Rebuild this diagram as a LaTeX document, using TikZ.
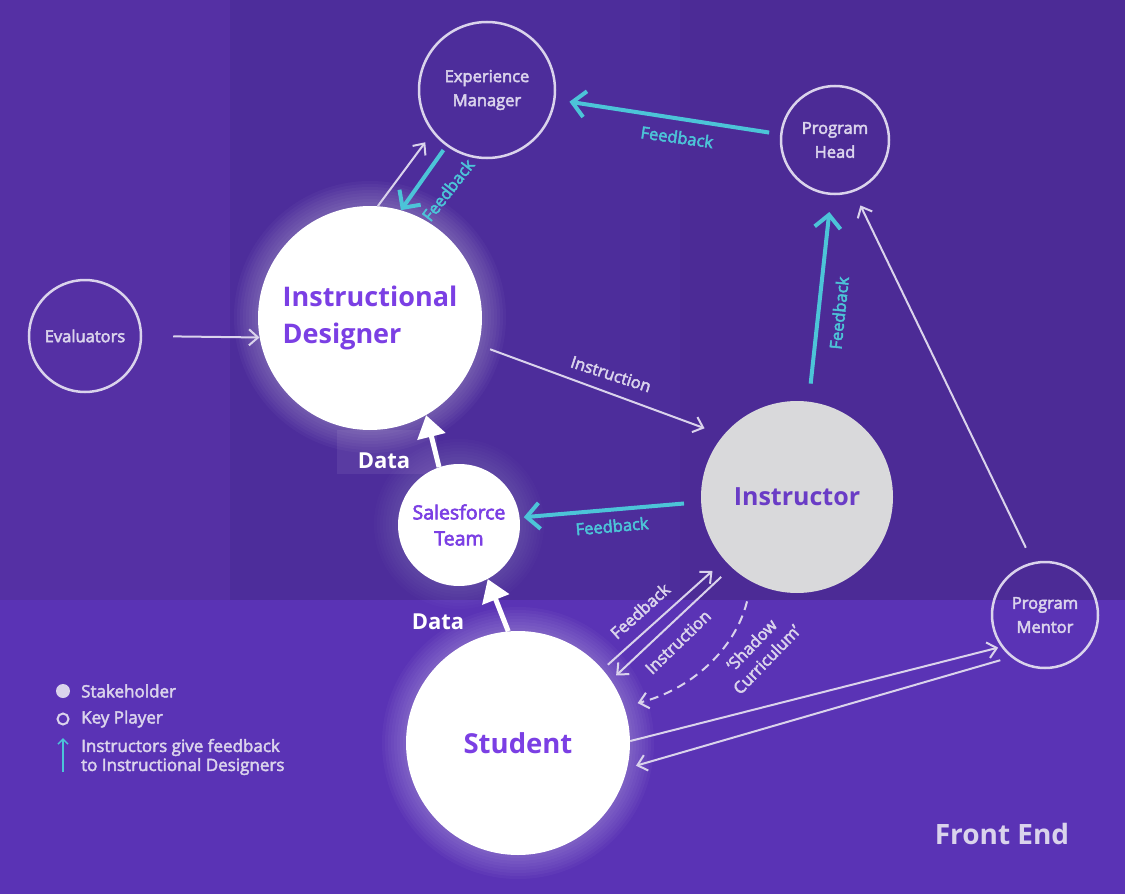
\documentclass[tikz,border=0pt]{standalone}
\usepackage{fontspec}
\setmainfont{Open Sans}
\usetikzlibrary{arrows.meta}
\definecolor{bgL}{HTML}{5530A4}
\definecolor{bgC}{HTML}{4D2D9B}
\definecolor{bgR}{HTML}{4C2B96}
\definecolor{bgB}{HTML}{5A33B5}
\definecolor{lgray}{HTML}{DAD3EC}
\definecolor{cyanA}{HTML}{4CC4D8}
\definecolor{purpT}{HTML}{7B3FE4}
\definecolor{purpI}{HTML}{6A3CC6}
\definecolor{instF}{HTML}{D9D9DB}
\begin{document}
\begin{tikzpicture}[x=1pt,y=-1pt,
  emb/.style={execute at begin node={\special{pdf:literal direct 2 Tr #1 w}},
              execute at end node={\special{pdf:literal direct 0 Tr 0.4 w}}},
  kp/.style={circle, draw=lgray, line width=2.5pt, inner sep=0pt, text=lgray,
    font=\fontsize{16.5}{24}\selectfont, align=center, emb=0.5},
  sh/.style={circle, fill=white, inner sep=0pt, text=purpT, align=center},
  thinarr/.style={draw=lgray, line width=2pt, -{Straight Barb[length=9pt,width=16pt]}},
  cyanarr/.style={draw=cyanA, line width=4pt, -{Straight Barb[length=13pt,width=26pt]}},
  dataarr/.style={draw=white, line width=5pt, -{Triangle[length=22pt,width=28pt]}},
  glbl/.style={text=lgray, font=\fontsize{16.5}{20}\selectfont, inner sep=1pt, emb=0.5},
  clbl/.style={text=cyanA, font=\fontsize{16.5}{20}\selectfont, inner sep=1pt, emb=0.5},
  dlbl/.style={text=white, font=\fontsize{22}{24}\selectfont\bfseries, inner sep=1pt},
  leg/.style={text=lgray, font=\fontsize{17}{19}\selectfont, anchor=west, align=left, inner sep=0pt, emb=0.45}
]
\useasboundingbox (0,0) rectangle (1125,894);
% backgrounds
\fill[bgL] (0,0) rectangle (230,600);
\fill[bgC] (230,0) rectangle (680,600);
\fill[bgR] (680,0) rectangle (1125,600);
\fill[bgB] (0,600) rectangle (1125,894);
\fill[white, opacity=0.07] (337,430) rectangle (437,474);
% glows
\foreach \k in {1,...,8} {
  \fill[white, opacity=0.03] (370,317) circle[radius=112+3*\k];
  \fill[white, opacity=0.03] (518,743) circle[radius=112+3*\k];
  \fill[white, opacity=0.015] (459,524) circle[radius=61+3*\k];
}
% nodes
\node[kp, minimum size=136pt] (em) at (487,90) {Experience\\Manager};
\node[kp, minimum size=108pt] (ph) at (835,140) {Program\\Head};
\node[kp, minimum size=112pt] (ev) at (85,336) {Evaluators};
\node[kp, minimum size=106pt] (pm) at (1045,615) {Program\\Mentor};
\node[sh, minimum size=224pt, align=left, font=\fontsize{27}{37}\selectfont\bfseries] (id) at (370,318) {Instructional\\Designer};
\node[sh, minimum size=122pt, font=\fontsize{19.5}{26}\selectfont, emb=0.6] (sf) at (459,525) {Salesforce\\Team};
\node[circle, fill=instF, inner sep=0pt, minimum size=192pt, text=purpI, font=\fontsize{25}{30}\selectfont\bfseries] (in) at (797,497) {Instructor};
\node[sh, minimum size=224pt, font=\fontsize{27.5}{30}\selectfont\bfseries] (st) at (518,743) {Student};
% connectors
\draw[thinarr, shorten >=12pt] (id.86) -- (em.218);
\draw[cyanarr, shorten <=5pt] (em.234) -- (id.74);
\draw[cyanarr, shorten <=11pt, shorten >=14pt] (ph.174) -- (em.-8);
\draw[thinarr, shorten <=31pt] (ev.east) -- (id.190);
\draw[thinarr, shorten <=12pt, shorten >=20pt] (id.-14) -- (in.140);
\draw[cyanarr, shorten <=18pt, shorten >=17pt] (in.83) -- (ph.266);
\draw[thinarr, shorten <=16pt, shorten >=15pt] (pm.103) -- (ph.-70);
\draw[cyanarr, shorten <=17pt, shorten >=4pt] (in.183) -- (sf.7);
\draw[dataarr] (sf.109) -- (id.-60);
\draw[dataarr] (st.95) -- (sf.-62);
\draw[thinarr, shorten <=7pt, shorten >=16pt] (st.41) -- (in.221);
\draw[thinarr, shorten <=14pt, shorten >=7pt] (in.227) -- (st.34);
\draw[draw=lgray, line width=2pt, dash pattern=on 9pt off 6pt, -{Straight Barb[length=9pt,width=16pt]}, shorten <=20pt, shorten >=14pt]
  (in.242) .. controls (735,650) and (690,690) .. (st.19);
\draw[thinarr, shorten >=3pt] (st.1) -- (pm.216);
\draw[thinarr, shorten <=11pt, shorten >=9pt] (pm.231) -- (st.-13);
% labels
\node[clbl, rotate=52] (l1) at (448,190) {Feedback};
\node[clbl, rotate=-8] (l2) at (677,137) {Feedback};
\node[glbl, rotate=-18] (l3) at (611,374) {Instruction};
\node[clbl, rotate=84] (l4) at (839,313) {Feedback};
\node[clbl, rotate=5] (l5) at (612,526) {Feedback};
\node[glbl, rotate=42] (l6) at (640,611) {Feedback};
\node[glbl, rotate=44] (l7) at (678,642) {Instruction};
\node[glbl, rotate=46, align=center, font=\fontsize{16.5}{21}\selectfont] (l8) at (759,652) {‘Shadow\\Curriculum’};
\node[dlbl] (d1) at (384,461) {Data};
\node[dlbl] (d2) at (438,622) {Data};
% legend
\node[circle, fill=lgray, inner sep=0pt, minimum size=14pt] (lg1) at (63,691) {};
\node[circle, draw=lgray, line width=2pt, inner sep=0pt, minimum size=11pt] (lg2) at (63,719) {};
\coordinate (lg3a) at (63,772);
\coordinate (lg3b) at (63,738);
\draw[draw=cyanA, line width=1.5pt, -{Straight Barb[length=5pt,width=10pt]}] (lg3a) -- (lg3b);
\node[leg] (t1) at (81,691) {Stakeholder};
\node[leg] (t2) at (81,719) {Key Player};
\node[leg] (t3) at (81,757) {Instructors give feedback\\to Instructional Designers};
\node[text=lgray, font=\fontsize{28}{30}\selectfont\bfseries] (fe) at (1002,834) {Front End};
\end{tikzpicture}
\end{document}
